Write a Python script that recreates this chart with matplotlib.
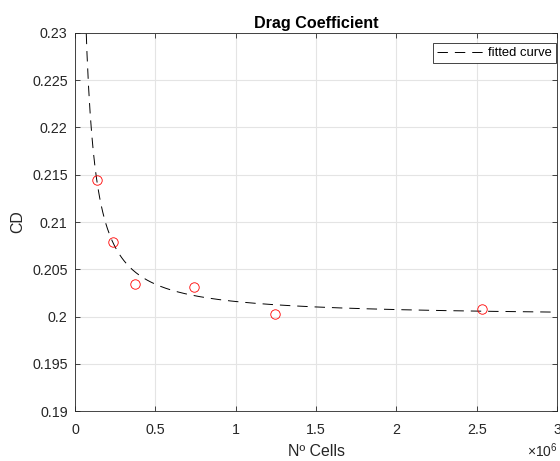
import numpy as np
import matplotlib
matplotlib.use("Agg")
from matplotlib import pyplot as plt

# measured points (cells, drag coefficient)
cells = [0.135e6, 0.238e6, 0.373e6, 0.741e6, 1.242e6, 2.536e6]
cd = [0.2144, 0.2079, 0.2034, 0.2031, 0.2003, 0.2008]

# fitted curve cd = a + b * (cells/1e6)^c, coefficients
fit_a = 0.2
fit_b = 0.0016
fit_c = -1.1
fit_range = (0.06e6, 3e6)

xticks = [0, 0.5e6, 1e6, 1.5e6, 2e6, 2.5e6, 3e6]
xtick_labels = ['0', '0.5', '1', '1.5', '2', '2.5', '3']
yticks = [0.19, 0.195, 0.2, 0.205, 0.21, 0.215, 0.22, 0.225, 0.23]
ytick_labels = ['0.19', '0.195', '0.2', '0.205', '0.21', '0.215', '0.22', '0.225', '0.23']

plt.rcParams['font.family'] = ['Liberation Sans', 'DejaVu Sans']
plt.rcParams['mathtext.fontset'] = 'custom'
plt.rcParams['mathtext.rm'] = 'Liberation Sans'
plt.rcParams['lines.scale_dashes'] = False
txt = '#262626'
W, H = 560, 461

fig = plt.figure(figsize=(W / 100, H / 100), dpi=100)
ax = fig.add_axes([75 / W, 1 - 411.3 / H, 482 / W, (411.3 - 32.7) / H])

xf = np.linspace(fit_range[0], fit_range[1], 600)
yf = fit_a + fit_b * (xf / 1e6) ** fit_c
ax.plot(xf, yf, color='black', linewidth=0.7, dashes=(7.5, 5), label='fitted curve')
ax.plot(cells, cd, 'o', markersize=6.8, markerfacecolor='none',
        markeredgecolor='#ff0000', markeredgewidth=0.6, linestyle='none')

ax.set_xlim(0, 3e6)
ax.set_ylim(0.19, 0.23)
ax.set_xticks(xticks)
ax.set_xticklabels(xtick_labels)
ax.set_yticks(yticks)
ax.set_yticklabels(ytick_labels)
ax.tick_params(direction='in', length=3.5, width=0.6, colors=txt, labelsize=10.3,
               top=True, right=True)
ax.tick_params(axis='x', pad=8.5)
ax.tick_params(axis='y', pad=5.3)
for s in ax.spines.values():
    s.set_color(txt)
    s.set_linewidth(0.6)
ax.grid(True, color='#e4e4e4', linewidth=0.8)
ax.set_axisbelow(True)

ax.set_title('Drag Coefficient', fontsize=11.6, fontweight='bold', color='black', pad=3.6)
ax.set_xlabel('Nº Cells', fontsize=11.4, color=txt, labelpad=5)
ax.set_ylabel('CD', fontsize=11.4, color=txt, labelpad=5)
fig.text(558 / W, 1 / H, r'$\times\mathregular{10^{6}}$', ha='right', va='bottom',
         fontsize=10, color=txt)

leg = ax.legend(loc='upper right', fontsize=9.4, fancybox=False, framealpha=1,
                edgecolor=txt, handlelength=3.6, borderpad=0.3,
                bbox_to_anchor=(556 / W, 1 - 43.3 / H), bbox_transform=fig.transFigure,
                handletextpad=0.35, borderaxespad=0)
leg.get_frame().set_linewidth(0.6)
for t in leg.get_texts():
    t.set_color('black')

fig.savefig('out.png', dpi=100)
